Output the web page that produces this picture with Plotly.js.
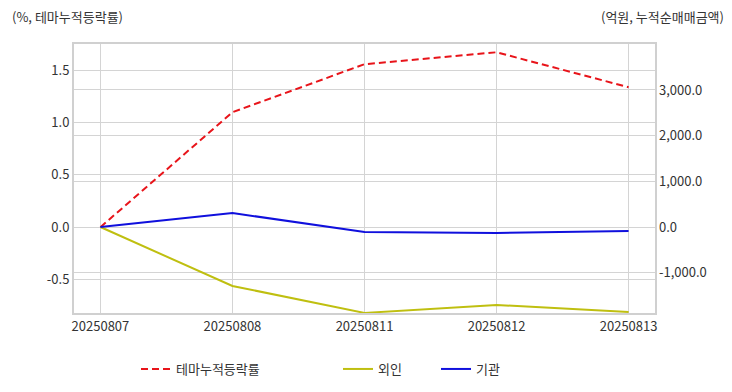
<!DOCTYPE html>
<html><head><meta charset="utf-8">
<script src="https://cdn.plot.ly/plotly-3.0.1.min.js"></script>
<style>body{margin:0}#c{width:732px;height:392px}</style>
</head><body><div id="c"></div>
<script>
const dates = ['20250807','20250808','20250811','20250812','20250813'];
const themeRate = [0, 1.098, 1.557, 1.671, 1.337];
const foreign = [0, -1291, -1880, -1707, -1860];
const institution = [0, 306, -109, -131, -88];
const names = ['테마누적등락률','외인','기관'];

const font = "Noto Sans CJK KR, Noto Sans, sans-serif";
const traces = [
  {x: dates, y: themeRate, name: names[0], type: 'scatter', mode: 'lines', yaxis: 'y', legend: 'legend',
   line: {color: '#e8141a', width: 2, dash: '7px,4px'}},
  {x: dates, y: foreign, name: names[1], type: 'scatter', mode: 'lines', yaxis: 'y2', legend: 'legend2',
   line: {color: '#bfbf10', width: 2}},
  {x: dates, y: institution, name: names[2], type: 'scatter', mode: 'lines', yaxis: 'y2', legend: 'legend3',
   line: {color: '#1010dd', width: 2}}
];
function leg(px) {
  return {orientation: 'h', xref: 'container', yref: 'container', x: px / 732, xanchor: 'left',
          y: (392 - 369) / 392, yanchor: 'middle', itemwidth: 30, bgcolor: 'rgba(0,0,0,0)',
          font: {size: 13, color: '#333'}};
}
const layout = {
  width: 732, height: 392,
  margin: {l: 74, r: 77, t: 44, b: 79},
  paper_bgcolor: '#fff', plot_bgcolor: '#fff',
  font: {family: font, size: 13, color: '#333'},
  showlegend: true,
  legend: leg(136), legend2: leg(338), legend3: leg(436),
  xaxis: {type: 'category', range: [-0.2, 4.2], showgrid: true, gridcolor: '#d4d4d4',
          showline: true, linecolor: '#d0d0d0', linewidth: 2, mirror: true, ticks: '',
          tickfont: {size: 13, color: '#333'}, zeroline: false, automargin: false},
  yaxis: {range: [-0.82, 1.75], tickvals: [-0.5, 0, 0.5, 1.0, 1.5],
          ticktext: ['-0.5','0.0','0.5','1.0','1.5'], showgrid: true, gridcolor: '#d4d4d4',
          zeroline: false, showline: true, linecolor: '#d0d0d0', linewidth: 2, mirror: true,
          ticks: '', tickfont: {size: 13, color: '#333'}, automargin: false},
  yaxis2: {overlaying: 'y', side: 'right', range: [-1882, 4006],
           tickvals: [-1000, 0, 1000, 2000, 3000],
           ticktext: ['-1,000.0','0.0','1,000.0','2,000.0','3,000.0'],
           showgrid: true, gridcolor: '#d4d4d4', zeroline: false, ticks: '', ticklabelstandoff: 3,
           tickfont: {size: 13, color: '#333'}, automargin: false},
  annotations: [
    {text: '(%, 테마누적등락률)', xref: 'paper', yref: 'paper', x: -74/581, y: 1, yshift: 28,
     xshift: 10, xanchor: 'left', yanchor: 'middle', showarrow: false, font: {size: 13, color: '#333'}},
    {text: '(억원, 누적순매매금액)', xref: 'paper', yref: 'paper', x: 1 + 71/581, y: 1, yshift: 28,
     xanchor: 'right', yanchor: 'middle', showarrow: false, font: {size: 13, color: '#333'}}
  ]
};
Plotly.newPlot('c', traces, layout, {displayModeBar: false, staticPlot: true});
</script></body></html>
